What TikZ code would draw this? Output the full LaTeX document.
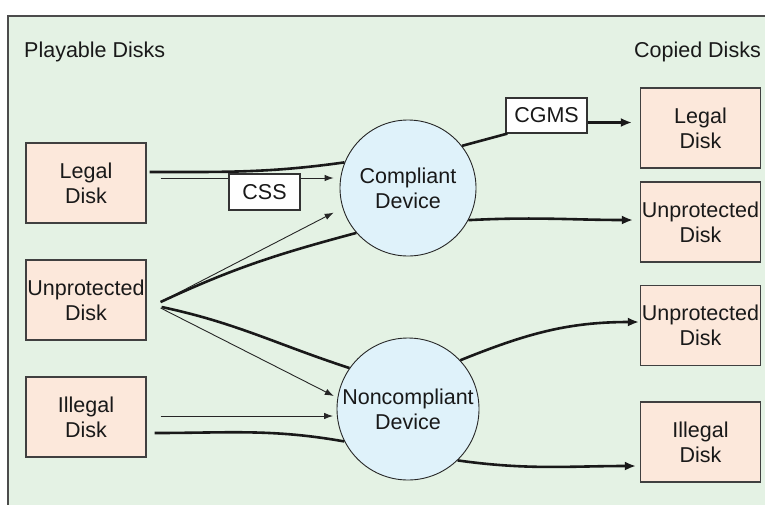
\documentclass[tikz,border=0pt]{standalone}
\usepackage{fontspec}
\setmainfont{Liberation Sans}
\usetikzlibrary{arrows.meta}
\definecolor{panel}{RGB}{228,242,228}
\definecolor{diskfill}{RGB}{252,232,219}
\definecolor{devfill}{RGB}{223,242,250}
\begin{document}
\begin{tikzpicture}[x=1pt, y=1pt,
every node/.style={font=\fontsize{21.5}{25}\selectfont, text=black!90, align=center},
disk/.style={draw=black!75, line width=1.2pt, fill=diskfill, minimum width=120pt, minimum height=80pt, inner sep=0pt},
device/.style={circle, draw=black!85, line width=0.9pt, fill=devfill, inner sep=0pt},
tag/.style={draw=black!80, line width=1.2pt, fill=white, inner sep=0pt},
thinline/.style={draw=black!85, line width=0.9pt},
thinarrow/.style={thinline, -{Latex[length=9pt,width=6.5pt]}},
thickline/.style={draw=black!90, line width=2.6pt},
thickarrow/.style={thickline, -{Latex[length=11pt,width=9pt]}}]
\useasboundingbox (0,0) rectangle (765,-504);
\fill[panel] (8,-16) rectangle (766,-505);
\draw[black!70, line width=1.2pt] (8,-505) -- (8,-16) -- (766,-16);

\node[anchor=west, inner sep=0pt] (playable) at (24,-52) {Playable Disks};
\node[anchor=east, inner sep=0pt] (copied) at (761,-52) {Copied Disks};

\node[disk] (legal) at (86,-183) {Legal\\Disk};
\node[disk] (unprot) at (86,-300) {Unprotected\\Disk};
\node[disk] (illegal) at (86,-417) {Illegal\\Disk};
\node[disk] (clegal) at (700.5,-128) {Legal\\Disk};
\node[disk] (cunprot) at (700.5,-222) {Unprotected\\Disk};
\node[disk] (nunprot) at (700.5,-325.5) {Unprotected\\Disk};
\node[disk] (nillegal) at (700.5,-442) {Illegal\\Disk};

\node[device, minimum size=136pt] (comp) at (408,-188) {Compliant\\Device};
\node[device, minimum size=142pt] (noncomp) at (408,-409) {Noncompliant\\Device};

\node[tag, minimum width=71pt, minimum height=36pt] (css) at (264.5,-192) {CSS};
\node[tag, minimum width=81pt, minimum height=35pt] (cgms) at (546.5,-115.5) {CGMS};

\coordinate (lthick) at ([shift={(3pt,11pt)}]legal.east);
\coordinate (lthin) at ([shift={(14pt,5pt)}]legal.east);
\coordinate (ufan) at ([shift={(14pt,-2pt)}]unprot.east);
\coordinate (udown) at ([shift={(15pt,-7pt)}]unprot.east);
\coordinate (uthin) at ([shift={(14pt,-8pt)}]unprot.east);
\coordinate (ithin) at ([shift={(14pt,1pt)}]illegal.east);
\coordinate (ithick) at ([shift={(8pt,-16pt)}]illegal.east);

\path[thickline] (lthick) to[out=0, in=188] (comp.158);
\path[thinline] (lthin) -- (lthin -| css.west);
\path[thinarrow, shorten >=6pt] (lthin -| css.east) -- (lthin -| comp.west);
\path[thinarrow, shorten >=10pt] (ufan) -- (comp.197);
\path[thickline] (ufan) to[out=25, in=195] (comp.221);
\path[thickline] (udown) to[out=-12, in=162] (noncomp.145);
\path[thinarrow, shorten >=4pt] (uthin) -- (noncomp.171);
\path[thinarrow, shorten >=3.5pt] (ithin) -- (ithin -| noncomp.west);
\path[thickline] (ithick) to[out=0, in=170] (noncomp.207);

\path[thickline] (comp.38) -- ([xshift=2pt]cgms.south west);
\path[thickarrow, shorten >=8pt] ([yshift=-7pt]cgms.east) -- ([yshift=-7pt]cgms.east -| clegal.west);
\path[thickarrow, shorten >=7pt] (comp.-28) to[out=3, in=180] ([yshift=2pt]cunprot.west);
\path[thickarrow, shorten >=1pt] (noncomp.43) to[out=22, in=180] ([yshift=3.5pt]nunprot.west);
\path[thickarrow, shorten >=4pt] (noncomp.-46) to[out=-8, in=180] ([yshift=-24pt]nillegal.west);
\end{tikzpicture}
\end{document}
